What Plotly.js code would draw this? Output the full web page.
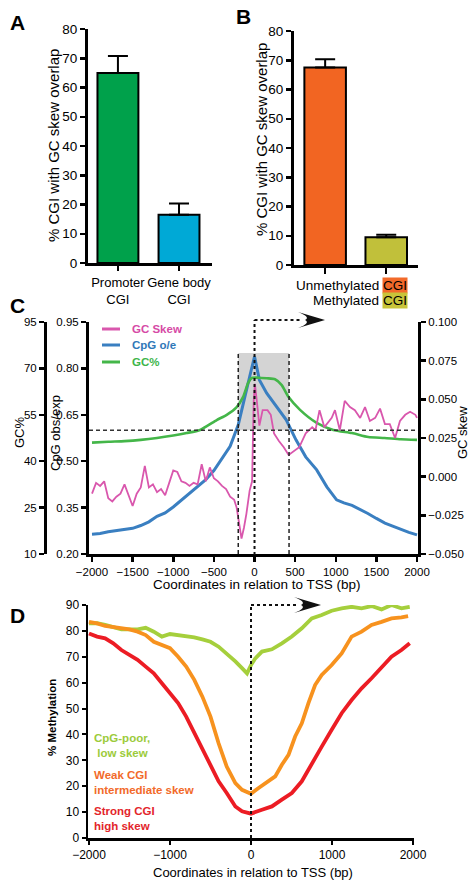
<!DOCTYPE html>
<html>
<head>
<meta charset="utf-8">
<script src="https://cdn.plot.ly/plotly-3.0.1.min.js"></script>
<style>html,body{margin:0;padding:0;background:#fff;}#chart{width:475px;height:885px;}</style>
</head>
<body>
<div id="chart"></div>
<script>
// ---------- Panel A ----------
const catsA = ["Promoter<br>CGI", "Gene body<br>CGI"];
const valsA = [65, 16.5];
const errA = [5.8, 3.8];
// ---------- Panel B ----------
const catsB = ["Unmethylated CGI", "Methylated CGI"];
const labelsB = ["Unmethylated", "Methylated"];
const valsB = [67.5, 9.5];
const errB = [2.8, 0.8];
// ---------- Panel C ----------
const skewX = [-2000,-1950,-1900,-1850,-1800,-1750,-1700,-1650,-1600,-1550,-1500,-1450,-1400,-1350,-1300,-1250,-1200,-1150,-1100,-1050,-1000,-950,-900,-850,-800,-750,-700,-650,-600,-550,-500,-450,-400,-350,-300,-250,-220,-190,-160,-130,-100,-60,-30,-10,5,30,60,100,160,200,240,300,360,420,490,550,630,710,750,800,860,950,990,1050,1110,1175,1235,1300,1360,1420,1485,1545,1605,1665,1730,1790,1855,1915,1980,2000];
const skewY = [-0.011,-0.004,-0.006,-0.003,-0.014,-0.016,-0.013,-0.011,-0.005,-0.012,-0.019,-0.011,-0.007,0.007,-0.007,-0.005,-0.010,-0.008,-0.012,-0.004,0.004,0.003,-0.003,-0.004,-0.006,-0.004,-0.005,0.008,-0.003,0.006,-0.001,-0.003,-0.006,-0.008,-0.013,-0.015,-0.020,-0.030,-0.040,-0.033,-0.024,-0.009,-0.003,0.049,0.060,0.048,0.033,0.043,0.043,0.040,0.028,0.023,0.019,0.014,0.017,0.019,0.028,0.032,0.030,0.043,0.032,0.038,0.043,0.030,0.049,0.045,0.043,0.038,0.045,0.036,0.038,0.044,0.034,0.034,0.025,0.036,0.040,0.042,0.040,0.038];
const cpgX = [-2000,-1900,-1800,-1700,-1600,-1500,-1400,-1300,-1200,-1100,-1000,-900,-800,-700,-600,-500,-400,-300,-200,-140,-60,0,60,150,270,390,510,630,765,890,1010,1100,1200,1300,1395,1500,1605,1700,1815,1900,2000];
const cpgY = [0.264,0.266,0.272,0.275,0.278,0.283,0.292,0.304,0.322,0.333,0.352,0.374,0.395,0.416,0.440,0.470,0.510,0.548,0.618,0.689,0.773,0.838,0.763,0.720,0.676,0.634,0.569,0.514,0.472,0.417,0.375,0.365,0.357,0.345,0.331,0.315,0.300,0.290,0.277,0.270,0.262];
const gcX = [-2000,-1800,-1600,-1400,-1200,-1000,-835,-670,-465,-342,-219,-140,-78,-35,50,150,252,335,417,560,765,970,1200,1400,1600,1800,2000];
const gcY = [46.0,46.3,46.5,46.9,47.5,48.3,49.1,50.1,53.3,55.0,57.5,60.8,65.3,66.9,67.0,66.8,66.5,64.6,60.8,56.6,52.4,50.1,49.1,47.8,47.5,47.1,46.9];
const gcTickVals = [10,25,40,55,70,85];
const gcTickText = ["10","25","40","55","70","95"];
// ---------- Panel D ----------
const poorX = [-2000,-1900,-1800,-1600,-1400,-1300,-1200,-1100,-1000,-900,-800,-700,-600,-500,-400,-300,-193,-111,-49,0,53,135,258,381,504,627,750,873,996,1119,1242,1365,1488,1611,1734,1857,1959];
const poorY = [82.9,83,82.3,80.6,80.6,81.2,79.7,77.8,78.8,78.4,77.8,77.5,76.7,75.8,73.9,71.3,68.2,65.6,63.6,66.8,69.4,72,72.9,75.2,77.8,81,84.8,86.1,87.8,88.7,89.3,88.7,89.6,88.3,90,88.7,89.3];
const weakX = [-2000,-1900,-1800,-1600,-1500,-1400,-1300,-1200,-1100,-1000,-900,-800,-700,-600,-500,-400,-300,-193,-111,-29,0,94,176,299,381,463,545,627,709,791,873,996,1119,1242,1365,1488,1611,1734,1857,1939];
const weakY = [83.5,82.9,81.9,81,80.6,79.7,78.4,75.8,74.6,73.3,70,66.2,61.1,54.6,46.9,36.6,27.6,21.2,18.6,17.4,17.1,19.3,21.2,23.8,28.3,32.1,39.2,44.3,52.1,59.1,63,66.8,71.3,77.8,79.7,82.3,83.5,84.8,85.2,85.7];
const strongX = [-2000,-1900,-1800,-1700,-1600,-1500,-1400,-1300,-1200,-1100,-1000,-900,-800,-700,-600,-500,-400,-300,-193,-111,0,135,258,381,504,627,750,873,996,1119,1242,1365,1488,1611,1734,1857,1959];
const strongY = [79,77.8,77.1,75.2,72.6,70.7,68.8,66.2,63.6,59.8,55.9,52.1,46.9,40.5,34.1,27.6,21.9,17.4,12.2,10.3,9.4,10.9,12.2,14.8,17.4,21.9,28.9,35.3,41.8,48.2,53.3,57.8,61.7,65.6,70,72.6,75.2];

const FONT = 'Liberation Sans, Arial, Helvetica, sans-serif';
const W = 475, H = 885;
const px = v => v / W;
const py = v => 1 - v / H;

const C_PINK = '#d957ad', C_BLUE = '#3a7fc1', C_GREEN = '#44b649';
const C_POOR = '#a5cf3c', C_WEAK = '#f7921e', C_STRONG = '#ec1c24';
const DASH = '4px,3px';

function axisStyle(extra) {
  return Object.assign({
    showline: true, linecolor: '#000', linewidth: 3, ticks: 'outside', ticklen: 6,
    tickwidth: 2.5, tickcolor: '#000', showgrid: false, zeroline: false,
    tickfont: {family: FONT, size: 13.5, color: '#000'}, fixedrange: true
  }, extra);
}

const traces = [
  {type: 'bar', x: catsA, y: valsA, xaxis: 'x', yaxis: 'y', width: 0.67,
   marker: {color: ['#00a14b', '#00a9d6'], line: {color: '#000', width: 2}},
   error_y: {type: 'data', symmetric: false, array: errA, arrayminus: [0, 0], color: '#000', thickness: 2, width: 10},
   showlegend: false, hoverinfo: 'skip'},
  {type: 'bar', x: catsB, y: valsB, xaxis: 'x2', yaxis: 'y2', width: 0.68,
   marker: {color: ['#f26522', '#c1c03a'], line: {color: '#000', width: 2}},
   error_y: {type: 'data', symmetric: false, array: errB, arrayminus: [0, 0], color: '#000', thickness: 2, width: 10},
   showlegend: false, hoverinfo: 'skip'},
  {type: 'scatter', mode: 'lines', x: gcX, y: gcY, xaxis: 'x3', yaxis: 'y4', name: 'GC%',
   line: {color: C_GREEN, width: 2.6, shape: 'spline', smoothing: 0.6}, showlegend: false, hoverinfo: 'skip'},
  {type: 'scatter', mode: 'lines', x: skewX, y: skewY, xaxis: 'x3', yaxis: 'y5', name: 'GC Skew',
   line: {color: C_PINK, width: 1.8}, showlegend: false, hoverinfo: 'skip'},
  {type: 'scatter', mode: 'lines', x: cpgX, y: cpgY, xaxis: 'x3', yaxis: 'y3', name: 'CpG o/e',
   line: {color: C_BLUE, width: 3}, showlegend: false, hoverinfo: 'skip'},
  {type: 'scatter', mode: 'lines', x: poorX, y: poorY, xaxis: 'x4', yaxis: 'y6', name: 'CpG-poor, low skew',
   line: {color: C_POOR, width: 3.8}, showlegend: false, hoverinfo: 'skip'},
  {type: 'scatter', mode: 'lines', x: weakX, y: weakY, xaxis: 'x4', yaxis: 'y6', name: 'Weak CGI intermediate skew',
   line: {color: C_WEAK, width: 3.8}, showlegend: false, hoverinfo: 'skip'},
  {type: 'scatter', mode: 'lines', x: strongX, y: strongY, xaxis: 'x4', yaxis: 'y6', name: 'Strong CGI high skew',
   line: {color: C_STRONG, width: 3.8}, showlegend: false, hoverinfo: 'skip'}
];

function arrowHead(tipX, midY) {
  const x0 = px(tipX - 27), xn = px(tipX - 20), xt = px(tipX);
  const yt = py(midY - 8), yb = py(midY + 8), ym = py(midY);
  return {type: 'path', xref: 'paper', yref: 'paper', fillcolor: '#111', line: {width: 0},
    path: `M ${xt} ${ym} L ${x0} ${yt} Q ${px(tipX-14)} ${py(midY-3)} ${xn} ${ym} Q ${px(tipX-14)} ${py(midY+3)} ${x0} ${yb} Z`};
}

const shapes = [
  // Panel C highlight box and thresholds
  {type: 'rect', xref: 'x3', yref: 'y3', x0: -200, x1: 425, y0: 0.6, y1: 0.85, fillcolor: '#d4d4d4', line: {width: 0}, layer: 'below'},
  {type: 'line', xref: 'x3', yref: 'y3', x0: -2037, x1: 2012, y0: 0.6, y1: 0.6, line: {color: '#333', width: 1.5, dash: DASH}},
  {type: 'line', xref: 'x3', yref: 'y3', x0: -200, x1: -200, y0: 0.2, y1: 0.85, line: {color: '#222', width: 1.5, dash: DASH}},
  {type: 'line', xref: 'x3', yref: 'y3', x0: 425, x1: 425, y0: 0.2, y1: 0.85, line: {color: '#222', width: 1.5, dash: DASH}},
  {type: 'line', xref: 'x3', yref: 'paper', x0: 0, x1: 0, y0: py(555), y1: py(320), line: {color: '#111', width: 2, dash: 'dot'}},
  {type: 'line', xref: 'paper', yref: 'paper', x0: px(254.5), x1: px(300), y0: py(320), y1: py(320), line: {color: '#111', width: 2, dash: 'dot'}},
  arrowHead(325, 320),
  // Panel C legend samples
  {type: 'line', xref: 'paper', yref: 'paper', x0: px(102), x1: px(120), y0: py(329), y1: py(329), line: {color: C_PINK, width: 3}},
  {type: 'line', xref: 'paper', yref: 'paper', x0: px(102), x1: px(120), y0: py(345), y1: py(345), line: {color: C_BLUE, width: 3}},
  {type: 'line', xref: 'paper', yref: 'paper', x0: px(102), x1: px(120), y0: py(362), y1: py(362), line: {color: C_GREEN, width: 3}},
  // Panel D TSS marker
  {type: 'line', xref: 'x4', yref: 'paper', x0: 0, x1: 0, y0: py(838), y1: py(605), line: {color: '#111', width: 2, dash: 'dot'}},
  {type: 'line', xref: 'paper', yref: 'paper', x0: px(251), x1: px(296), y0: py(605), y1: py(605), line: {color: '#111', width: 2, dash: 'dot'}},
  arrowHead(321, 605)
];

function ann(text, x, y, opts) {
  return Object.assign({text: text, xref: 'paper', yref: 'paper', x: px(x), y: py(y), showarrow: false,
    xanchor: 'center', yanchor: 'middle', font: {family: FONT, size: 13.5, color: '#000'}}, opts || {});
}

const annotations = [
  ann('<b>A</b>', 17, 22, {font: {family: FONT, size: 21, color: '#000'}}),
  ann('<b>B</b>', 244, 17, {font: {family: FONT, size: 21, color: '#000'}}),
  ann('<b>C</b>', 17, 305, {font: {family: FONT, size: 21, color: '#000'}}),
  ann('<b>D</b>', 17, 615, {font: {family: FONT, size: 21, color: '#000'}}),
  ann('% CGI with GC skew overlap', 53, 146, {textangle: -90, font: {family: FONT, size: 15, color: '#000'}}),
  ann('% CGI with GC skew overlap', 261, 140, {textangle: -90, font: {family: FONT, size: 15, color: '#000'}}),
  // Panel B category labels
  ann(labelsB[0], 381, 285, {xanchor: 'right'}),
  ann('CGI', 382, 285, {xanchor: 'left', bgcolor: '#f26a2a', borderpad: 0}),
  ann(labelsB[1], 381, 300, {xanchor: 'right'}),
  ann('CGI', 382, 300, {xanchor: 'left', bgcolor: '#c8c43a', borderpad: 0}),
  // Panel C titles
  ann('GC%', 19, 432, {textangle: -90, font: {family: FONT, size: 13, color: '#000'}}),
  ann('CpG obs/exp', 55, 433, {textangle: -90, font: {family: FONT, size: 13, color: '#000'}}),
  ann('GC skew', 462, 433, {textangle: -90, font: {family: FONT, size: 13, color: '#000'}}),
  ann('Coordinates in relation to TSS (bp)', 257, 584),
  // Panel C legend
  ann('<b>GC Skew</b>', 130, 329, {xanchor: 'left', font: {family: FONT, size: 11.5, color: '#d64aa6'}}),
  ann('<b>CpG o/e</b>', 130, 345, {xanchor: 'left', font: {family: FONT, size: 11.5, color: '#2f78b8'}}),
  ann('<b>GC%</b>', 130, 362, {xanchor: 'left', font: {family: FONT, size: 11.5, color: '#3db54a'}}),
  // Panel D
  ann('<b>% Methylation</b>', 52, 718, {textangle: -90, font: {family: FONT, size: 11.5, color: '#000'}}),
  ann('Coordinates in relation to TSS (bp)', 253, 872, {font: {family: FONT, size: 13, color: '#000'}}),
  ann('<b>CpG-poor,<br> low skew</b>', 92, 745, {xanchor: 'left', align: 'left', font: {family: FONT, size: 11.5, color: '#9ccb3b'}}),
  ann('<b>Weak CGI<br>intermediate skew</b>', 92, 782, {xanchor: 'left', align: 'left', font: {family: FONT, size: 11.5, color: '#f26a2a'}}),
  ann('<b>Strong CGI<br>high skew</b>', 92, 818, {xanchor: 'left', align: 'left', font: {family: FONT, size: 11.5, color: '#e3252b'}})
];

const layout = {
  width: W, height: H, margin: {l: 0, r: 0, t: 0, b: 0},
  paper_bgcolor: '#fff', plot_bgcolor: 'rgba(0,0,0,0)',
  font: {family: FONT, color: '#000'},
  showlegend: false,
  xaxis: axisStyle({domain: [px(88), px(212)], anchor: 'y', type: 'category', range: [-0.49, 1.54], tickangle: 0, ticklen: 5, tickfont: {family: FONT, size: 13, color: '#000'}}),
  yaxis: axisStyle({domain: [py(263), py(29)], anchor: 'x', range: [0, 80], dtick: 10, tick0: 0, ticklen: 5}),
  xaxis2: axisStyle({domain: [px(294), px(418)], anchor: 'y2', type: 'category', range: [-0.51, 1.52], showticklabels: false}),
  yaxis2: axisStyle({domain: [py(265), py(31)], anchor: 'x2', range: [0, 80], dtick: 10, tick0: 0, ticklen: 5}),
  xaxis3: axisStyle({domain: [px(89), px(418)], anchor: 'y3', range: [-2037, 2012], dtick: 500, tick0: 0, ticklen: 5, tickangle: 0, tickfont: {family: FONT, size: 11.5, color: '#000'}}),
  yaxis3: axisStyle({domain: [py(554), py(322)], anchor: 'x3', range: [0.2, 0.95], dtick: 0.15, tick0: 0.2, tickformat: '.2f', ticklen: 5, tickfont: {family: FONT, size: 11.5, color: '#000'}}),
  yaxis4: axisStyle({overlaying: 'y3', anchor: 'free', position: px(45), side: 'left', range: [10, 85], tickmode: 'array', tickvals: gcTickVals, ticktext: gcTickText, ticklen: 5, tickfont: {family: FONT, size: 11.5, color: '#000'}}),
  yaxis5: axisStyle({overlaying: 'y3', anchor: 'x3', side: 'right', range: [-0.05, 0.1], dtick: 0.025, tick0: -0.05, tickformat: '.3f', ticklen: 5, tickfont: {family: FONT, size: 11.5, color: '#000'}}),
  xaxis4: axisStyle({domain: [px(88), px(414)], anchor: 'y6', range: [-2012, 2012], dtick: 1000, tick0: 0, tickangle: 0, linewidth: 2.5, tickwidth: 2, ticklen: 4, tickfont: {family: FONT, size: 12, color: '#000'}}),
  yaxis6: axisStyle({domain: [py(838), py(605)], anchor: 'x4', range: [0, 90], dtick: 10, tick0: 0, linewidth: 2.5, tickwidth: 2, ticklen: 4, tickfont: {family: FONT, size: 12, color: '#000'}}),
  shapes: shapes,
  annotations: annotations
};

Plotly.newPlot('chart', traces, layout, {staticPlot: true, displayModeBar: false});
</script>
</body>
</html>
